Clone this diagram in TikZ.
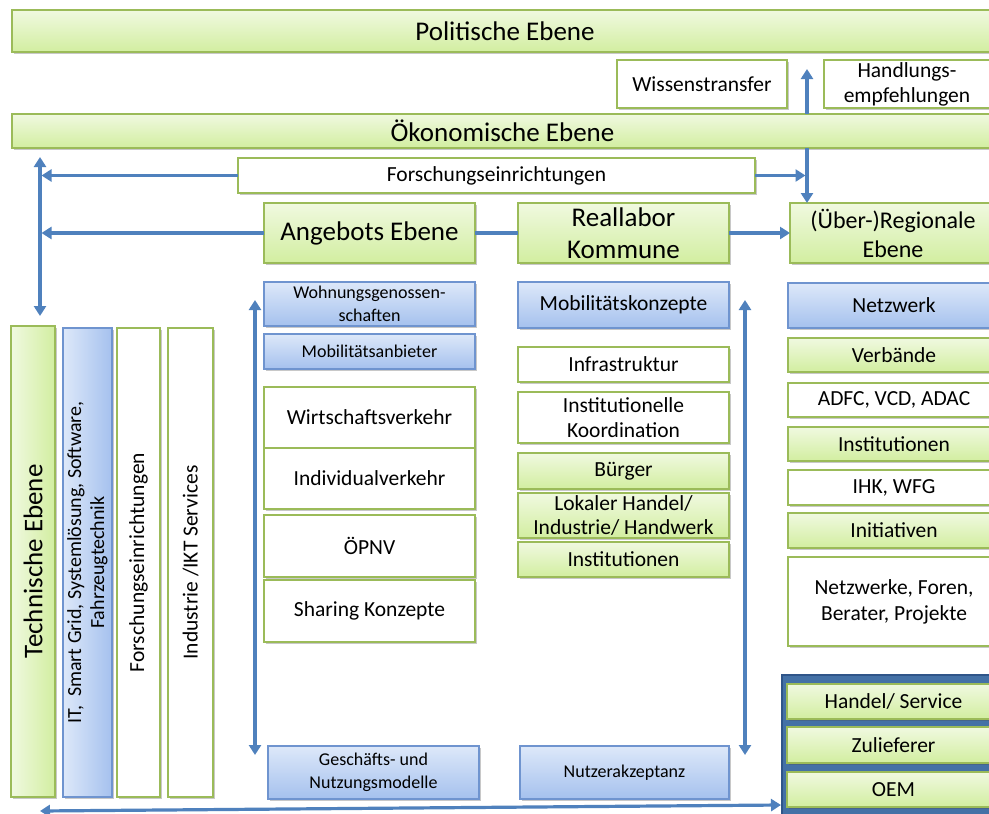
\documentclass[tikz,border=0pt]{standalone}
\usepackage{fontspec}
\setmainfont{Carlito}
\usetikzlibrary{arrows.meta,shadows}
\definecolor{arrblue}{HTML}{4F81BD}
\definecolor{grnline}{HTML}{9BBB59}
\definecolor{grntop}{HTML}{F0F9E0}
\definecolor{grnbot}{HTML}{D2EEA0}
\definecolor{bluline}{HTML}{6F94CF}
\definecolor{blutop}{HTML}{DDE8F9}
\definecolor{blubot}{HTML}{A5C1EE}
\definecolor{frameblue}{HTML}{4471A6}
\definecolor{frameline}{HTML}{2F5589}
\tikzset{
  box/.style={draw, line width=1.2pt, inner sep=0pt, outer sep=0pt, align=center,
    drop shadow={shadow xshift=1.5pt, shadow yshift=-1.5pt, opacity=.3, fill=black!70}},
  gbox/.style={box, draw=grnline, top color=grntop, bottom color=grnbot},
  bbox/.style={box, draw=bluline, top color=blutop, bottom color=blubot},
  wbox/.style={box, draw=grnline, fill=white},
  wh/.style 2 args={minimum width=#1pt, minimum height=#2pt},
  fL/.style={font=\fontsize{27}{32}\selectfont},
  fM/.style={font=\fontsize{21.5}{25}\selectfont},
  fS/.style={font=\fontsize{18}{22.5}\selectfont},
  arr/.style={draw=arrblue, line width=3.2pt, -{Triangle[length=10pt,width=12pt]}},
  biarr/.style={arr, {Triangle[length=10pt,width=12pt]}-{Triangle[length=10pt,width=12pt]}}
}
\begin{document}
\begin{tikzpicture}[x=1pt, y=-1pt]
  \clip (0,0) rectangle (989,814);
  \fill[white] (0,0) rectangle (989,814);

  \node[gbox, wh={986}{42}, fL] (pol) at (505,31) {Politische Ebene};
  \node[wbox, wh={170}{48}, fM] (wiss) at (702,84) {Wissenstransfer};
  \node[wbox, wh={166}{48}, fM] (handl) at (907,84) {Handlungs-\\empfehlungen};
  \node[gbox, wh={981}{34}, fL] (oek) at (502.5,131) {Ökonomische Ebene};
  \node[wbox, wh={517}{35}, fM] (forsch) at (496.5,175.5) {Forschungseinrichtungen};
  \node[gbox, wh={211}{60}, fL] (ang) at (369.5,233) {Angebots Ebene};
  \node[gbox, wh={211}{60}, fL] (real) at (623.5,233) {Reallabor\\Kommune};
  \node[gbox, wh={206}{60}, font=\fontsize{24}{29}\selectfont] (reg) at (893,233) {(Über-)Regionale\\Ebene};

  \node[gbox, left color=grntop, right color=grnbot, wh={471}{44}, rotate=90, fL] (tech) at (33,561.5) {Technische Ebene};
  \node[bbox, left color=blutop, right color=blubot, wh={469}{49}, rotate=90, font=\fontsize{20}{23}\selectfont] (it) at (87.5,562.5)
    {IT,~ Smart Grid, Systemlösung, Software,\\Fahrzeugtechnik};
  \node[wbox, wh={469}{43}, rotate=90, fM] (forv) at (138.5,562.5) {Forschungseinrichtungen};
  \node[wbox, wh={469}{45}, rotate=90, fM] (ind) at (190.5,562.5) {Industrie /IKT Services};

  \node[bbox, wh={211}{44}, fS] (wohn) at (369.5,304) {Wohnungsgenossen-\\schaften};
  \node[bbox, wh={211}{35}, fS] (mobA) at (369.5,351.5) {Mobilitätsanbieter};
  \node[wbox, wh={211}{61}, fM] (wirt) at (369.5,417.5) {Wirtschaftsverkehr};
  \node[wbox, wh={211}{61}, fM] (indiv) at (369.5,478.5) {Individualverkehr};
  \node[wbox, wh={211}{62}, fM] (oepnv) at (369.5,546) {ÖPNV};
  \node[wbox, wh={211}{62}, fM] (shar) at (369.5,611) {Sharing Konzepte};
  \node[bbox, wh={211}{53}, fS] (gesch) at (373.5,772.5) {Geschäfts- und\\Nutzungsmodelle};

  \node[bbox, wh={211}{46}, fM] (mobK) at (623.5,305) {Mobilitätskonzepte};
  \node[wbox, wh={211}{35}, fM] (infra) at (623.5,364.5) {Infrastruktur};
  \node[wbox, wh={211}{51}, fM] (instK) at (623.5,417.5) {Institutionelle\\Koordination};
  \node[gbox, wh={211}{36}, fM] (buerg) at (623.5,471) {Bürger};
  \node[gbox, wh={211}{45}, font=\fontsize{21.5}{24}\selectfont] (lokal) at (623.5,515.5)
    {Lokaler Handel/\\Industrie/ Handwerk};
  \node[gbox, wh={211}{35}, fM] (instA) at (623.5,559.5) {Institutionen};
  \node[bbox, wh={209}{53}, fS] (nutz) at (624.5,772.5) {Nutzerakzeptanz};

  \node[bbox, wh={212}{45}, fM] (netz) at (894,305.5) {Netzwerk};
  \node[gbox, wh={212}{34}, fM] (verb) at (894,355) {Verbände};
  \node[wbox, wh={212}{34}, fM] (adfc) at (894,400) {ADFC, VCD, ADAC};
  \node[gbox, wh={212}{34}, fM] (instB) at (894,444) {Institutionen};
  \node[wbox, wh={212}{35}, fM] (ihk) at (894,487.5) {IHK, WFG};
  \node[gbox, wh={212}{35}, fM] (init) at (894,530.5) {Initiativen};
  \node[wbox, wh={212}{89}, font=\fontsize{21.5}{26}\selectfont] (netzw) at (894,601.5)
    {Netzwerke, Foren,\\Berater, Projekte};

  \node[draw=frameline, fill=frameblue, line width=2.5pt, wh={223}{147}] (frame) at (893.5,748.5) {};
  \node[gbox, wh={213}{35}, fM] (hand) at (893.5,701.5) {Handel/ Service};
  \node[gbox, wh={213}{36}, fM] (zul) at (893.5,745) {Zulieferer};
  \node[gbox, wh={213}{35}, fM] (oem) at (893.5,789.5) {OEM};

  \coordinate (lt) at (40,157);
  \coordinate (lb) at (40,316);
  \coordinate (wt) at (807,69);
  \coordinate (ml1) at (255,300);
  \coordinate (ml2) at (255,755);
  \coordinate (mr1) at (745,300);
  \coordinate (mr2) at (745,755);
  \coordinate (bl) at (40,811);
  \coordinate (br) at (781,805);

  \draw[biarr] (lt) -- (lb);
  \draw[arr, shorten >=1.5pt] (forsch.west) -- (forsch.west -| lt);
  \draw[arr, shorten >=1.5pt] (ang.west) -- (ang.west -| lt);
  \draw[arr, -] (ang.east) -- (real.west);
  \draw[arr] (real.east) -- (reg.west);
  \draw[arr] (oek.north -| wt) -- (wt);
  \draw[arr] (oek.south -| wt) -- (reg.north -| wt);
  \draw[arr, shorten >=1.5pt] (forsch.east) -- (forsch.east -| wt);
  \draw[biarr] (ml1) -- (ml2);
  \draw[biarr] (mr1) -- (mr2);
  \draw[biarr] (bl) -- (br);
\end{tikzpicture}
\end{document}
